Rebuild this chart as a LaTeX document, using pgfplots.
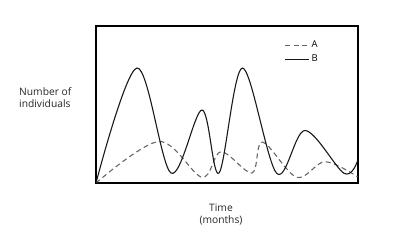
\documentclass[border=0pt]{standalone}
\usepackage{pgfplots}
\pgfplotsset{compat=1.18}
\usepackage{fontspec}
\setmainfont{Open Sans}
\begin{document}
\begin{tikzpicture}[x=1bp,y=1bp]
\useasboundingbox (0,0) rectangle (398,248);
\begin{axis}[
  at={(96bp,65bp)}, anchor=south west,
  width=262bp, height=157bp, scale only axis,
  xmin=0, xmax=262, ymin=0, ymax=157,
  xtick=\empty, ytick=\empty,
  axis line style={black, line width=1.2pt},
  clip=true,
  legend style={at={(0.715,0.925)}, anchor=north west, draw=none, fill=none,
    font=\fontsize{9.5}{10}\selectfont, row sep=2pt, inner sep=1pt},
  legend cell align=left,
  legend image code/.code={\draw[#1] (0bp,0bp) -- (24bp,0bp);},
]
\addplot[smooth, tension=0.55, color=black!60, line width=1.1pt, dash pattern=on 5bp off 3.5bp] coordinates {
(0,0) (63,41.5) (106,5.7) (125,31.3) (156,10) (166.5,41) (200.7,5.7) (229,21.3) (261.5,6.3)
};
\addlegendentry{A}
\addplot[smooth, tension=0.55, color=black!90, line width=1.1pt] coordinates {
(0,0) (41,115) (75,10) (106,73) (123,10) (146.5,115) (180.7,9.7) (209,52.5) (248,9.7) (261.5,22)
};
\addlegendentry{B}
\end{axis}
\node[anchor=west, align=left, font=\fontsize{10.3}{12}\selectfont, text=black!85, inner sep=0pt] at (19,150.5) {Number of\\individuals};
\node[align=center, font=\fontsize{10.3}{12}\selectfont, text=black!85, inner sep=0pt] at (221,33.5) {Time\\(months)};
\end{tikzpicture}
\end{document}
